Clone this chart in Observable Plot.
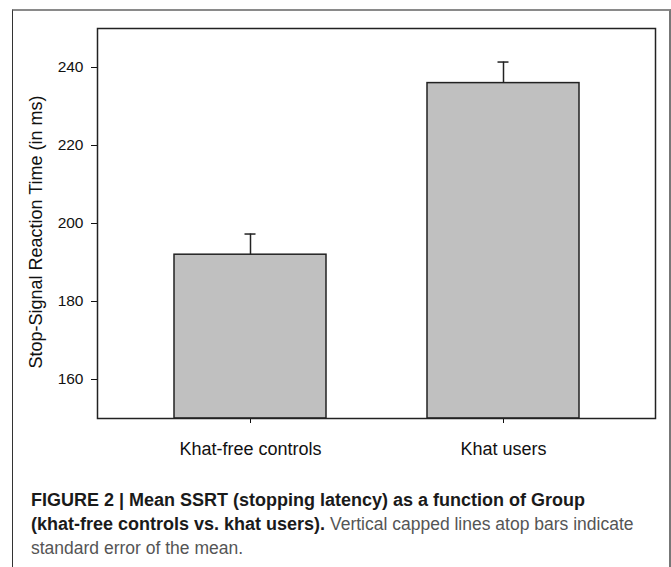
<!DOCTYPE html>
<html>
<head>
<meta charset="utf-8">
<script src="https://cdn.jsdelivr.net/npm/d3@7"></script>
<script src="https://cdn.jsdelivr.net/npm/@observablehq/plot@0.6"></script>
<style>
  html, body { margin: 0; padding: 0; background: #fff; }
  body { width: 671px; height: 567px; overflow: hidden; position: relative; }
  #outer { position: absolute; left: 12px; top: 9px; width: 659px; height: 620px; box-sizing: border-box;
           border-top: 2px solid #8a8a8a; border-left: 1.5px solid #333; border-right: 2px solid #777; }
  #chart { position: absolute; left: 0; top: 0; }
  #ylabel { position: absolute; left: 36px; top: 232px; transform: translate(-50%, -50%) rotate(-90deg);
            white-space: nowrap; font-family: "Liberation Sans", Arial, sans-serif; font-size: 18px; color: #111; }
  #caption { position: absolute; left: 31px; top: 488px; width: 635px;
             font-family: "Liberation Sans Narrow", "Liberation Sans", Arial, sans-serif;
             font-size: 17.5px; line-height: 24px; color: #555; }
  #caption b { color: #1a1a1a; font-size: 18px; }
</style>
</head>
<body>
<div id="outer"></div>
<div id="chart"></div>
<div id="ylabel"></div>
<div id="caption"><b>FIGURE 2 | Mean SSRT (stopping latency) as a function of Group<br>(khat-free controls vs. khat users).</b> Vertical capped lines atop bars indicate<br>standard error of the mean.</div>
<script>
const groups = ["Khat-free controls", "Khat users"];
const means = [192, 236];
const sems = [5.3, 5.4];
const yTicks = [160, 180, 200, 220, 240];
const yDomain = [150, 250];
const yLabel = "Stop-Signal Reaction Time (in ms)";

const data = groups.map((g, i) => ({group: g, mean: means[i], hi: means[i] + sems[i], base: yDomain[0]}));

const chart = Plot.plot({
  width: 671,
  height: 470,
  marginLeft: 97,
  marginRight: 16,
  marginTop: 28,
  marginBottom: 52,
  style: {fontFamily: "'Liberation Sans', Arial, sans-serif", color: "#111", background: "transparent", overflow: "visible"},
  x: {domain: groups, paddingInner: 0.4, paddingOuter: 0.3, axis: null},
  y: {domain: yDomain, axis: null},
  marks: [
    Plot.barY(data, {x: "group", y1: "base", y2: "mean", fill: "#c0c0c0", stroke: "#222", strokeWidth: 1.5}),
    Plot.ruleX(data, {x: "group", y1: "mean", y2: "hi", stroke: "#222", strokeWidth: 1.5}),
    Plot.tickY(data, {x: "group", y: "hi", insetLeft: 70.5, insetRight: 70.5, stroke: "#222", strokeWidth: 1.5}),
    Plot.axisY({ticks: yTicks, tickSize: 6, tickPadding: 8, fontSize: 15.5, label: null}),
    Plot.axisX({tickSize: 5, tickPadding: 19, fontSize: 18, label: null}),
    Plot.frame({stroke: "#222", strokeWidth: 1.5})
  ]
});
document.getElementById("chart").appendChild(chart);
document.getElementById("ylabel").textContent = yLabel;
</script>
</body>
</html>
